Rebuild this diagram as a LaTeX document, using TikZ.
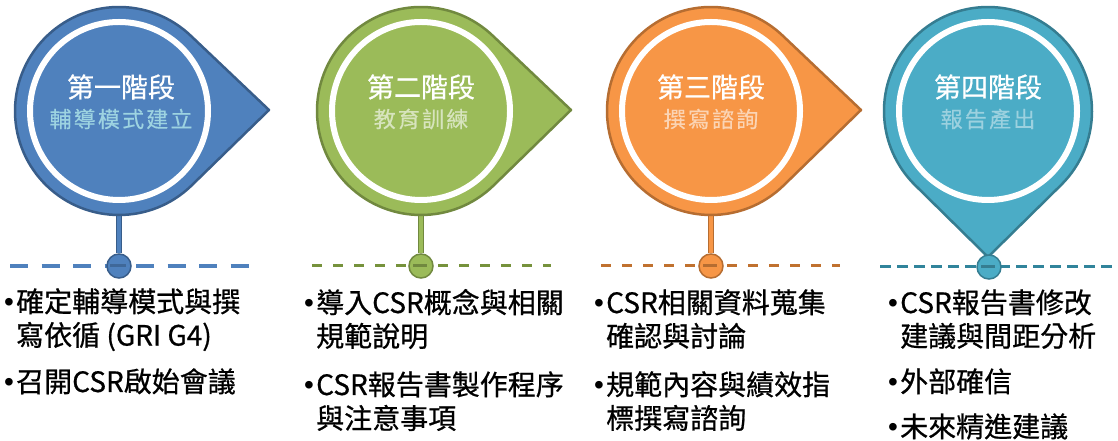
\documentclass[tikz,border=0pt]{standalone}
\usepackage{fontspec}
\setmainfont{Noto Sans CJK TC}
\newfontfamily\bulletfont{Liberation Sans}
\usetikzlibrary{calc}
\definecolor{bfill}{HTML}{4F81BD}\definecolor{bline}{HTML}{385D8A}\definecolor{bsub}{HTML}{9DD3E1}\definecolor{bdash}{HTML}{4F81BD}
\definecolor{gfill}{HTML}{9BBB59}\definecolor{gline}{HTML}{71893F}\definecolor{gsub}{HTML}{D7E4BD}\definecolor{gdash}{HTML}{76923C}
\definecolor{ofill}{HTML}{F79646}\definecolor{oline}{HTML}{B66D31}\definecolor{osub}{HTML}{FBD4B4}\definecolor{odash}{HTML}{C0712F}
\definecolor{tfill}{HTML}{4BACC6}\definecolor{tline}{HTML}{357D91}\definecolor{tsub}{HTML}{9CD1DF}\definecolor{tdash}{HTML}{31849B}
\newcommand\bulletbox{\makebox[12pt][l]{\bulletfont •}}
\newcommand\twoline[2]{\begin{tabular}[t]{@{}l@{}l@{}}\bulletbox&#1\\&#2\end{tabular}}
\newcommand\oneline[1]{\bulletbox#1}
\begin{document}
\begin{tikzpicture}[x=1pt,y=1pt,
  pinshape/.style={line width=2.5pt,line join=round},
  ring/.style={draw=white,line width=6pt},
  stem/.style={line width=1pt,double distance=3.5pt},
  dot/.style={circle,minimum size=24pt,inner sep=0pt,line width=1.5pt},
  ttl/.style={text=white,inner sep=0pt,font=\fontsize{27}{30}\selectfont\addfontfeature{FakeBold=0.6}},
  sub/.style={inner sep=0pt,font=\fontsize{22}{26}\selectfont\addfontfeature{LetterSpace=10,FakeBold=0.4}},
  item/.style={anchor=base west,inner sep=0pt,text=black,font=\fontsize{28}{33}\selectfont\addfontfeature{FakeBold=0.7}},
  timeline/.style={line width=#1},
]
\useasboundingbox (0,0) rectangle (1118,441);
\fill[white] (0,0) rectangle (1118,441);

% ---------- pin 1 (blue)
\coordinate (p1c) at (119,330);
\coordinate (p1t) at (269,331);
\coordinate (l1a) at (10,175);
\coordinate (l1b) at (249,175);
\draw[timeline=4.5pt,bdash,dash pattern=on 18pt off 13.5pt] (l1a) -- (l1b);
\node[dot,fill=bfill,draw=bline] (d1) at (119,175) {};
\draw[stem,draw=bline,double=bfill] (p1c) -- (d1.north);
\draw[line width=3pt,bline!70!bfill] (d1.west) ++(4,0) -- ++(16,0);
\draw[pinshape,fill=bfill,draw=bline] (p1t) -- ($(p1c)+(46.1:104)$) arc[start angle=46.1,end angle=313.9,radius=104] -- cycle;
\draw[ring] (p1c) circle[radius=89];
\node[ttl] (t1) at (121,354) {第一階段};
\node[sub,text=bsub] (s1) at (121,322) {輔導模式建立};

% ---------- pin 2 (green)
\coordinate (p2c) at (421,330);
\coordinate (p2t) at (571,331);
\coordinate (l2a) at (312,175);
\coordinate (l2b) at (551,175);
\draw[timeline=3pt,gdash,dash pattern=on 10pt off 11pt] (l2a) -- (l2b);
\node[dot,fill=gfill,draw=gline] (d2) at (421,175) {};
\draw[stem,draw=gline,double=gfill] (p2c) -- (d2.north);
\draw[line width=3pt,gline] (d2.west) ++(5,0) -- ++(14,0);
\draw[pinshape,fill=gfill,draw=gline] (p2t) -- ($(p2c)+(46.1:104)$) arc[start angle=46.1,end angle=313.9,radius=104] -- cycle;
\draw[ring] (p2c) circle[radius=89];
\node[ttl] (t2) at (421,354) {第二階段};
\node[sub,text=gsub] (s2) at (421,322) {教育訓練};

% ---------- pin 3 (orange)
\coordinate (p3c) at (711,330);
\coordinate (p3t) at (861,331);
\coordinate (l3a) at (601,175);
\coordinate (l3b) at (840,175);
\draw[timeline=3pt,odash,dash pattern=on 10pt off 11pt] (l3a) -- (l3b);
\node[dot,fill=ofill,draw=oline] (d3) at (711,175) {};
\draw[stem,draw=oline,double=ofill] (p3c) -- (d3.north);
\draw[line width=3pt,oline] (d3.west) ++(5,0) -- ++(14,0);
\draw[pinshape,fill=ofill,draw=oline] (p3t) -- ($(p3c)+(46.1:104)$) arc[start angle=46.1,end angle=313.9,radius=104] -- cycle;
\draw[ring] (p3c) circle[radius=89];
\node[ttl] (t3) at (711,354) {第三階段};
\node[sub,text=osub] (s3) at (711,322) {撰寫諮詢};

% ---------- pin 4 (teal)
\coordinate (p4c) at (988,330);
\coordinate (p4t) at (988,184);
\coordinate (l4a) at (880,174);
\coordinate (l4b) at (1118,174);
\draw[timeline=3pt,tdash,dash pattern=on 11pt off 6pt] (l4a) -- (l4b);
\draw[pinshape,fill=tfill,draw=tline] (p4t) -- ($(p4c)+(-45.4:104)$) arc[start angle=-45.4,end angle=225.4,radius=104] -- cycle;
\draw[ring] (p4c) circle[radius=89];
\node[dot,fill=tfill,draw=tline] (d4) at (989,174) {};
\draw[line width=3pt,tline] (d4.west) ++(5,0) -- ++(14,0);
\node[ttl] (t4) at (988,354) {第四階段};
\node[sub,text=tsub] (s4) at (988,322) {報告產出};

% ---------- bullet texts
\node[item] (i11) at (4,129) {\twoline{確定輔導模式與撰}{寫依循 (GRI G4)}};
\node[item] (i12) at (4,49) {\oneline{召開CSR啟始會議}};
\node[item] (i21) at (304,128) {\twoline{導入CSR概念與相關}{規範說明}};
\node[item] (i22) at (304,46) {\twoline{CSR報告書製作程序}{與注意事項}};
\node[item] (i31) at (594,128) {\twoline{CSR相關資料蒐集}{確認與討論}};
\node[item] (i32) at (594,46) {\twoline{規範內容與績效指}{標撰寫諮詢}};
\node[item] (i41) at (888,128) {\twoline{CSR報告書修改}{建議與間距分析}};
\node[item] (i42) at (888,49) {\oneline{外部確信}};
\node[item] (i43) at (888,4) {\oneline{未來精進建議}};
\end{tikzpicture}
\end{document}
